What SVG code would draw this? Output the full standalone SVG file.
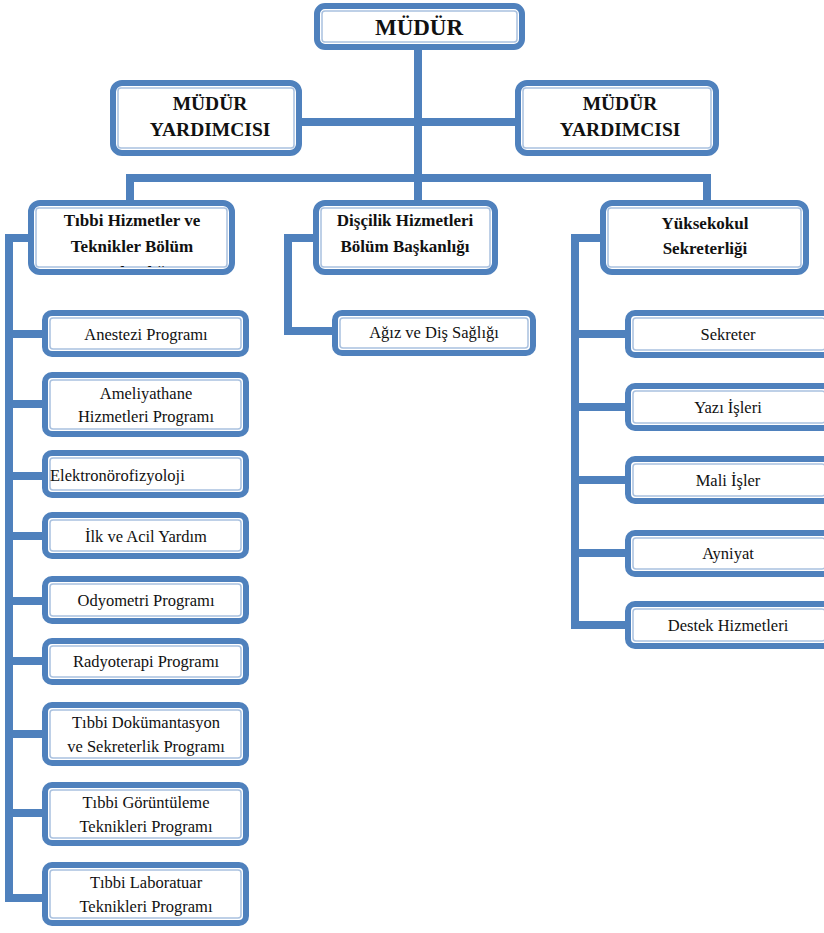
<svg xmlns="http://www.w3.org/2000/svg" width="824" height="933" viewBox="0 0 824 933">
<style>
.o{fill:#fff;stroke:#4f81bd;stroke-width:6}
.i{fill:none;stroke:#a9c1df;stroke-width:1.5}
.c{fill:none;stroke:#4f81bd;stroke-width:8;stroke-linejoin:miter}
text{font-family:"Liberation Serif","Times New Roman",serif;fill:#111;text-anchor:middle}
.b{font-weight:bold}
.t1{font-size:23px}
.t2{font-size:19.5px}
.t3{font-size:17px}
.t4{font-size:16.5px}
</style>
<defs>
<clipPath id="clipL"><rect x="36" y="208" width="191" height="59"/></clipPath>
</defs>
<rect width="824" height="933" fill="#fff"/>
<g id="connectors">
<path class="c" d="M418 48V182"/>
<path class="c" d="M300 122H516"/>
<path class="c" d="M130 204V178H707V204"/>
<path class="c" d="M418 178V204"/>
<path class="c" d="M30 238H9V898H44"/>
<path class="c" d="M9 334H44M9 404H44M9 476H44M9 536H44M9 601H44M9 661H44M9 734H44M9 813H44"/>
<path class="c" d="M315 238H288V331H334"/>
<path class="c" d="M602 238H575V625H627"/>
<path class="c" d="M575 334H627M575 407H627M575 480H627M575 553H627"/>
</g>
<g id="mudur">
<rect class="o" x="317" y="6" width="205" height="41" rx="8"/>
<rect class="i" x="322" y="11" width="195" height="31" rx="3"/>
<text class="b t1" x="419" y="35">MÜDÜR</text>
</g>
<g id="my1">
<rect class="o" x="113" y="83" width="186" height="70" rx="9"/>
<rect class="i" x="118" y="88" width="176" height="60" rx="3"/>
<text class="b t2" x="210" y="110">MÜDÜR</text>
<text class="b t2" x="210" y="136">YARDIMCISI</text>
</g>
<g id="my2">
<rect class="o" x="518" y="83" width="198" height="70" rx="9"/>
<rect class="i" x="523" y="88" width="188" height="60" rx="3"/>
<text class="b t2" x="620" y="110">MÜDÜR</text>
<text class="b t2" x="620" y="136">YARDIMCISI</text>
</g>
<g id="tibbi">
<rect class="o" x="31" y="203" width="201" height="69" rx="9"/>
<rect class="i" x="36" y="208" width="191" height="59" rx="3"/>
<g clip-path="url(#clipL)">
<text class="b t3" x="132" y="226">Tıbbi Hizmetler ve</text>
<text class="b t3" x="132" y="252">Teknikler Bölüm</text>
<text class="b t3" x="132" y="278">Başkanlığı</text>
</g>
</g>
<g id="discilik">
<rect class="o" x="316" y="203" width="179" height="69" rx="9"/>
<rect class="i" x="321" y="208" width="169" height="59" rx="3"/>
<text class="b t3" x="405" y="226">Dişçilik Hizmetleri</text>
<text class="b t3" x="405" y="252">Bölüm Başkanlığı</text>
</g>
<g id="yuksekokul">
<rect class="o" x="603" y="203" width="203" height="69" rx="9"/>
<rect class="i" x="608" y="208" width="193" height="59" rx="3"/>
<text class="b t3" x="705" y="229">Yüksekokul</text>
<text class="b t3" x="705" y="254">Sekreterliği</text>
</g>
<g id="anestezi">
<rect class="o" x="45" y="313" width="201" height="41" rx="7"/>
<rect class="i" x="50" y="318" width="191" height="31" rx="3"/>
<text class="t4" x="146" y="340">Anestezi Programı</text>
</g>
<g id="ameliyathane">
<rect class="o" x="45" y="375" width="201" height="59" rx="7"/>
<rect class="i" x="50" y="380" width="191" height="49" rx="3"/>
<text class="t4" x="146" y="399">Ameliyathane</text>
<text class="t4" x="146" y="422">Hizmetleri Programı</text>
</g>
<g id="elektro">
<rect class="o" x="45" y="453" width="201" height="42" rx="7"/>
<rect class="i" x="50" y="458" width="191" height="32" rx="3"/>
<text class="t4" x="50" y="481" style="text-anchor:start">Elektronörofizyoloji</text>
</g>
<g id="ilkyardim">
<rect class="o" x="45" y="515" width="201" height="41" rx="7"/>
<rect class="i" x="50" y="520" width="191" height="31" rx="3"/>
<text class="t4" x="146" y="542">İlk ve Acil Yardım</text>
</g>
<g id="odyometri">
<rect class="o" x="45" y="579" width="201" height="42" rx="7"/>
<rect class="i" x="50" y="584" width="191" height="32" rx="3"/>
<text class="t4" x="146" y="606">Odyometri Programı</text>
</g>
<g id="radyoterapi">
<rect class="o" x="45" y="641" width="201" height="41" rx="7"/>
<rect class="i" x="50" y="646" width="191" height="31" rx="3"/>
<text class="t4" x="146" y="667">Radyoterapi Programı</text>
</g>
<g id="dokumantasyon">
<rect class="o" x="45" y="705" width="201" height="58" rx="7"/>
<rect class="i" x="50" y="710" width="191" height="48" rx="3"/>
<text class="t4" x="146" y="728">Tıbbi Dokümantasyon</text>
<text class="t4" x="146" y="752">ve Sekreterlik Programı</text>
</g>
<g id="goruntuleme">
<rect class="o" x="45" y="785" width="201" height="58" rx="7"/>
<rect class="i" x="50" y="790" width="191" height="48" rx="3"/>
<text class="t4" x="146" y="808">Tıbbi Görüntüleme</text>
<text class="t4" x="146" y="832">Teknikleri Programı</text>
</g>
<g id="laboratuar">
<rect class="o" x="45" y="865" width="201" height="58" rx="7"/>
<rect class="i" x="50" y="870" width="191" height="48" rx="3"/>
<text class="t4" x="146" y="888">Tıbbi Laboratuar</text>
<text class="t4" x="146" y="912">Teknikleri Programı</text>
</g>
<g id="agiz">
<rect class="o" x="335" y="313" width="198" height="40" rx="7"/>
<rect class="i" x="340" y="318" width="188" height="30" rx="3"/>
<text class="t4" x="434" y="338">Ağız ve Diş Sağlığı</text>
</g>
<g id="sekreter">
<rect class="o" x="628" y="313" width="202" height="42" rx="7"/>
<rect class="i" x="633" y="318" width="192" height="32" rx="3"/>
<text class="t4" x="728" y="340">Sekreter</text>
</g>
<g id="yazi">
<rect class="o" x="628" y="386" width="202" height="42" rx="7"/>
<rect class="i" x="633" y="391" width="192" height="32" rx="3"/>
<text class="t4" x="728" y="413">Yazı İşleri</text>
</g>
<g id="mali">
<rect class="o" x="628" y="459" width="202" height="42" rx="7"/>
<rect class="i" x="633" y="464" width="192" height="32" rx="3"/>
<text class="t4" x="728" y="486">Mali İşler</text>
</g>
<g id="ayniyat">
<rect class="o" x="628" y="533" width="202" height="41" rx="7"/>
<rect class="i" x="633" y="538" width="192" height="31" rx="3"/>
<text class="t4" x="728" y="559">Ayniyat</text>
</g>
<g id="destek">
<rect class="o" x="628" y="604" width="202" height="42" rx="7"/>
<rect class="i" x="633" y="609" width="192" height="32" rx="3"/>
<text class="t4" x="728" y="631">Destek Hizmetleri</text>
</g>
</svg>
